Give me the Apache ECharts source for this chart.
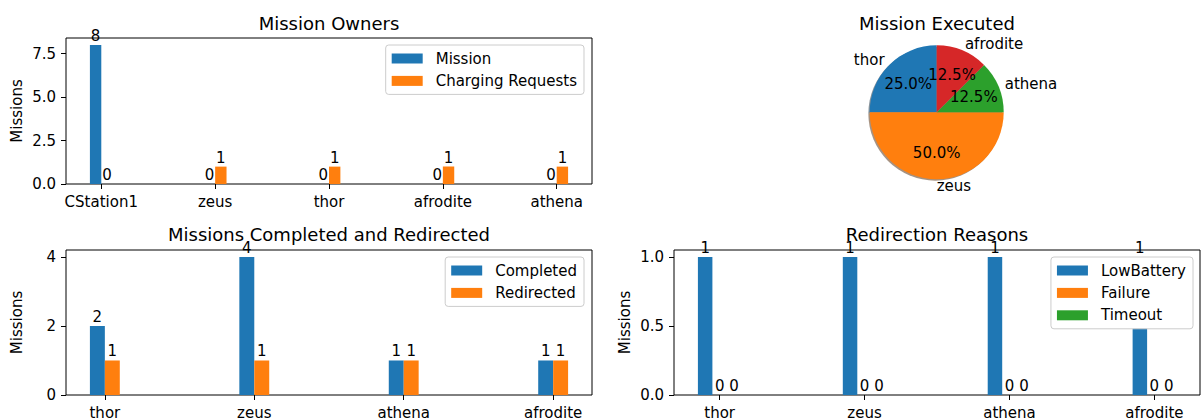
<!DOCTYPE html>
<html><head><meta charset="utf-8">
<script src="https://cdn.jsdelivr.net/npm/echarts@6/dist/echarts.min.js"></script>
<style>html,body{margin:0;padding:0;background:#fff}#c{width:1202px;height:420px}</style>
</head><body><div id="c"></div>
<script>
// ---------------- data ----------------
const ownerCategories = ['CStation1', 'zeus', 'thor', 'afrodite', 'athena'];
const ownerMission = [8, 0, 0, 0, 0];
const ownerCharging = [0, 1, 1, 1, 1];
const ownerTicks = [0, 2.5, 5, 7.5];
const ownerTickLabels = ['0.0', '2.5', '5.0', '7.5'];

const pieNames = ['thor', 'zeus', 'athena', 'afrodite'];
const pieValues = [2, 4, 1, 1];

const robotCategories = ['thor', 'zeus', 'athena', 'afrodite'];
const completed = [2, 4, 1, 1];
const redirected = [1, 1, 1, 1];
const completedTicks = [0, 2, 4];
const completedTickLabels = ['0', '2', '4'];

const reasonCategories = ['thor', 'zeus', 'athena', 'afrodite'];
const lowBattery = [1, 1, 1, 1];
const failure = [0, 0, 0, 0];
const timeout = [0, 0, 0, 0];
const reasonTicks = [0, 0.5, 1];
const reasonTickLabels = ['0.0', '0.5', '1.0'];

// ---------------- style ----------------
const FONT = 'DejaVu Sans';
const C = ['#1f77b4', '#ff7f0e', '#2ca02c', '#d62728'];
const BAR_W = 0.1;
const TXT = { fontSize: 15, fontFamily: FONT, color: '#000' };

function shade(hex) {
  const n = parseInt(hex.slice(1), 16);
  const r = Math.round(((n >> 16) & 255) * 0.3), g = Math.round(((n >> 8) & 255) * 0.3), b = Math.round((n & 255) * 0.3);
  return 'rgba(' + r + ',' + g + ',' + b + ',0.5)';
}

function barSeries(name, values, offset, color, idx) {
  return {
    type: 'custom', name: name, xAxisIndex: idx, yAxisIndex: idx,
    itemStyle: { color: color }, silent: true, clip: false,
    data: values.map((v, i) => [i, v]),
    encode: { x: 0, y: 1 },
    renderItem: function (params, api) {
      const x = api.value(0), y = api.value(1);
      const a = api.coord([x + offset - BAR_W / 2, 0]);
      const b = api.coord([x + offset + BAR_W / 2, y]);
      const cx = (a[0] + b[0]) / 2;
      return { type: 'group', children: [
        { type: 'rect', shape: { x: a[0], y: b[1], width: b[0] - a[0], height: a[1] - b[1] }, style: { fill: color } },
        { type: 'text', x: cx, y: b[1] - 4, style: { text: String(y), align: 'center', verticalAlign: 'bottom', fontSize: 15, lineHeight: 10, fontFamily: FONT, fill: '#000' } }
      ]};
    }
  };
}

function xAxisFor(idx, cats, half) {
  const lo = -half, hi = cats.length - 1 + half, m = (hi - lo) * 0.05;
  const vals = cats.map((_, i) => i);
  return {
    type: 'value', gridIndex: idx, min: lo - m, max: hi + m, position: 'bottom',
    splitLine: { show: false }, axisLine: { show: false, onZero: false },
    axisTick: { show: true, length: 5, customValues: vals, lineStyle: { color: '#000', width: 1 } },
    axisLabel: { show: true, margin: 10, customValues: vals, formatter: v => cats[Math.round(v)] || '', ...TXT }
  };
}
function yAxisFor(idx, maxVal, ticks, labels) {
  return {
    type: 'value', gridIndex: idx, min: 0, max: maxVal * 1.05, position: 'left',
    splitLine: { show: false }, axisLine: { show: false, onZero: false },
    name: 'Missions', nameLocation: 'middle', nameGap: 42, nameRotate: 90, nameTextStyle: TXT,
    axisTick: { show: true, length: 5, customValues: ticks, lineStyle: { color: '#000', width: 1 } },
    axisLabel: { show: true, margin: 10, customValues: ticks, formatter: v => { const k = ticks.findIndex(t => Math.abs(t - v) < 1e-9); return k >= 0 ? labels[k] : ''; }, ...TXT }
  };
}
function legendFor(names, right, top) {
  return {
    show: true, data: names, orient: 'vertical', right: right, top: top, icon: 'rect',
    itemWidth: 31, itemHeight: 10, itemGap: 7.4, padding: [6, 7, 6, 6],
    backgroundColor: '#fff', borderColor: '#cccccc', borderWidth: 1, borderRadius: 3,
    selectedMode: false, itemStyle: { borderWidth: 0 },
    textStyle: { fontSize: 15, fontFamily: FONT, color: '#000', padding: [0, 0, 0, 8] }
  };
}
function titleFor(text, cx, top) {
  return { text: text, left: cx, top: top, textAlign: 'center', padding: 0,
    textStyle: { fontSize: 18, lineHeight: 16, fontWeight: 'normal', fontFamily: FONT, color: '#000' } };
}

const gridStyle = { show: true, borderColor: '#000', borderWidth: 1, backgroundColor: 'transparent', containLabel: false };
const PIE_C = [936.7, 112.3], PIE_R = 67;

const option = {
  animation: false,
  backgroundColor: '#fff',
  title: [
    titleFor('Mission Owners', 329, 15),
    titleFor('Mission Executed', 937, 15),
    titleFor('Missions Completed and Redirected', 329, 226),
    titleFor('Redirection Reasons', 937, 226)
  ],
  legend: [
    legendFor(['Mission', 'Charging Requests'], 618, 45),
    legendFor(['Completed', 'Redirected'], 618, 257),
    legendFor(['LowBattery', 'Failure', 'Timeout'], 9, 257)
  ],
  grid: [
    { left: 66, top: 38, width: 526, height: 146, ...gridStyle },
    { left: 66, top: 250, width: 526, height: 147, ...gridStyle },
    { left: 674, top: 250, width: 526, height: 147, ...gridStyle }
  ],
  xAxis: [
    xAxisFor(0, ownerCategories, BAR_W),
    xAxisFor(1, robotCategories, BAR_W),
    xAxisFor(2, reasonCategories, BAR_W * 1.5)
  ],
  yAxis: [
    yAxisFor(0, Math.max(...ownerMission, ...ownerCharging), ownerTicks, ownerTickLabels),
    yAxisFor(1, Math.max(...completed, ...redirected), completedTicks, completedTickLabels),
    yAxisFor(2, Math.max(...lowBattery, ...failure, ...timeout), reasonTicks, reasonTickLabels)
  ],
  series: [
    barSeries('Mission', ownerMission, -BAR_W / 2, C[0], 0),
    barSeries('Charging Requests', ownerCharging, BAR_W / 2, C[1], 0),
    barSeries('Completed', completed, -BAR_W / 2, C[0], 1),
    barSeries('Redirected', redirected, BAR_W / 2, C[1], 1),
    barSeries('LowBattery', lowBattery, -BAR_W, C[0], 2),
    barSeries('Failure', failure, 0, C[1], 2),
    barSeries('Timeout', timeout, BAR_W, C[2], 2),
    // pie shadow
    { type: 'pie', center: [PIE_C[0] - 1.34, PIE_C[1] + 1.34], radius: PIE_R, startAngle: 90, clockwise: false,
      silent: true, z: 1, label: { show: false }, labelLine: { show: false }, emphasis: { disabled: true },
      data: pieNames.map((n, i) => ({ name: n + ' ', value: pieValues[i], itemStyle: { color: shade(C[i]), borderWidth: 0 } })) },
    // pie with outside names
    { type: 'pie', center: PIE_C, radius: PIE_R, startAngle: 90, clockwise: false, avoidLabelOverlap: false,
      silent: true, z: 2, emphasis: { disabled: true }, labelLayout: { hideOverlap: false },
      label: { show: true, position: 'outside', distanceToLabelLine: 0, ...TXT },
      labelLine: { show: false, length: PIE_R * 0.1, length2: 0 },
      data: pieNames.map((n, i) => ({ name: n, value: pieValues[i], itemStyle: { color: C[i], borderWidth: 0 } })) },
    // percentage labels
    { type: 'pie', center: PIE_C, radius: [PIE_R * 1.2 - 6 - PIE_R, PIE_R], startAngle: 90, clockwise: false, avoidLabelOverlap: false,
      silent: true, z: 3, emphasis: { disabled: true }, labelLine: { show: false }, labelLayout: { hideOverlap: false },
      label: { show: true, position: 'inside', formatter: p => p.percent.toFixed(1) + '%', ...TXT },
      data: pieNames.map((n, i) => ({ name: n + '  ', value: pieValues[i], itemStyle: { color: 'rgba(0,0,0,0)', borderWidth: 0 } })) }
  ]
};

const chart = echarts.init(document.getElementById('c'), null, { renderer: 'svg', width: 1202, height: 420 });
chart.setOption(option);
</script>
</body></html>
